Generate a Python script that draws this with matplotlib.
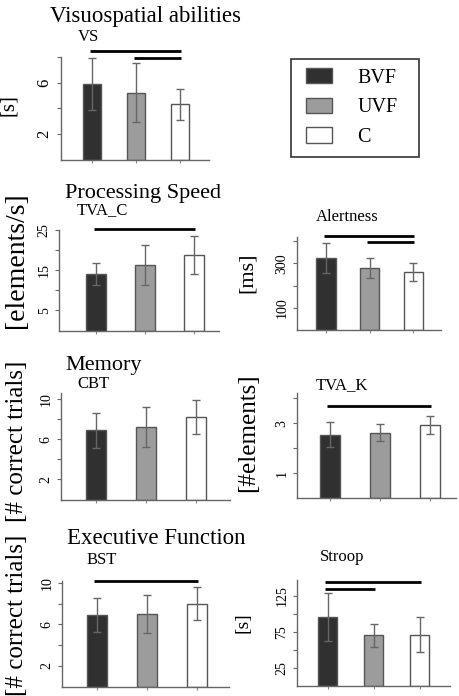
import numpy as np
import matplotlib
matplotlib.use("Agg")
import matplotlib.pyplot as plt
from matplotlib.patches import Patch, Rectangle

W, H = 460, 696
plt.rcParams['font.family'] = ['Liberation Serif', 'DejaVu Serif']

groups = ['BVF', 'UVF', 'C']
bar_colors = ['#303030', '#9c9c9c', '#ffffff']

vs_mean = [5.9, 5.2, 4.3]
vs_sd = [2.0, 2.3, 1.2]
tvac_mean = [14.1, 16.2, 18.8]
tvac_sd = [2.7, 5.0, 4.7]
alert_mean = [323, 278, 261]
alert_sd = [67, 45, 40]
cbt_mean = [6.9, 7.2, 8.2]
cbt_sd = [1.75, 2.0, 1.7]
tvak_mean = [2.54, 2.62, 2.92]
tvak_sd = [0.5, 0.33, 0.35]
bst_mean = [6.9, 7.0, 8.0]
bst_sd = [1.65, 1.85, 1.6]
stroop_mean = [95.7, 70.4, 71.4]
stroop_sd = [33, 16, 24]

# significance bars: (from group, to group, height)
vs_sig = [(0, 2, 8.5), (1, 2, 7.96)]
tvac_sig = [(0, 2, 25.2)]
alert_sig = [(0, 2, 425), (1, 2, 395)]
tvak_sig = [(0, 2, 3.68)]
bst_sig = [(0, 2, 10.2)]
stroop_sig = [(0, 2, 144), (0, 1, 135)]


def px_axes(fig, left, right, top, bottom):
    return fig.add_axes([left / W, 1 - bottom / H, (right - left) / W, (bottom - top) / H])


def panel(fig, rect, xlim, ylim, mean, sd, ticks, labels, sig, width=0.41, tsize=10):
    ax = px_axes(fig, *rect)
    x = np.arange(len(mean))
    ax.bar(x, mean, width, color=bar_colors, edgecolor='#555555', linewidth=1, zorder=2)
    ax.errorbar(x, mean, yerr=sd, fmt='none', ecolor='#666666', elinewidth=1,
                capsize=3, capthick=1, zorder=3)
    for a, b, h in sig:
        ax.plot([a - 0.05, b + 0.03], [h, h], color='black', lw=2.0,
                solid_capstyle='butt', clip_on=False, zorder=4)
    ax.set_xlim(*xlim)
    ax.set_ylim(*ylim)
    for s in ['top', 'right']:
        ax.spines[s].set_visible(False)
    for s in ['left', 'bottom']:
        ax.spines[s].set_color('#666666')
        ax.spines[s].set_linewidth(1)
    ax.set_xticks(x)
    ax.set_xticklabels([])
    ax.tick_params(axis='x', length=2, color='#888888')
    ax.set_yticks(ticks)
    ax.set_yticklabels(labels)
    ax.tick_params(axis='y', length=3, color='#666666', labelsize=tsize, pad=3,
                   labelrotation=90)
    for lab in ax.get_yticklabels():
        lab.set_va('center')
    ax.set_facecolor('none')
    return ax


fig = plt.figure(figsize=(W / 100, H / 100), dpi=100)

panel(fig, (61, 209, 57, 159.5), (-0.705, 2.66), (0, 8), vs_mean, vs_sd,
      [2, 4, 6, 8], ['2', '', '6', ''], vs_sig, width=0.41, tsize=12)
panel(fig, (59, 219, 230, 330.5), (-0.755, 2.51), (0, 25), tvac_mean, tvac_sd,
      [5, 10, 15, 20, 25], ['5', '', '15', '', '25'], tvac_sig, width=0.41)
panel(fig, (297, 441, 236.7, 330), (-0.667, 2.64), (0, 420), alert_mean, alert_sd,
      [100, 200, 300, 400], ['100', '', '300', ''], alert_sig, width=0.44)
panel(fig, (60.7, 230, 393, 499.5), (-0.7, 2.68), (0, 10.6), cbt_mean, cbt_sd,
      [2, 4, 6, 8, 10], ['2', '', '6', '', '10'], [], width=0.4)
panel(fig, (296.7, 456, 393.3, 498), (-0.66, 2.52), (0, 4.2), tvak_mean, tvak_sd,
      [1, 2, 3, 4], ['1', '', '3', ''], tvak_sig, width=0.4)
panel(fig, (61.7, 229, 581, 686.5), (-0.7, 2.65), (0, 10.2), bst_mean, bst_sd,
      [2, 4, 6, 8, 10], ['2', '', '6', '', '10'], bst_sig, width=0.4)
panel(fig, (296.7, 450, 580, 686), (-0.67, 2.66), (0, 147), stroop_mean, stroop_sd,
      [25, 50, 75, 100, 125], ['25', '', '75', '', '125'], stroop_sig, width=0.41)


def ftext(x, y, s, size, ha='left', va='baseline', rot=0):
    fig.text(x / W, 1 - y / H, s, fontsize=size, ha=ha, va=va, rotation=rot)


# section titles and test names
ftext(50, 22, 'Visuospatial abilities', 16.5)
ftext(78, 40.7, 'VS', 12)
ftext(65, 198.3, 'Processing Speed', 16)
ftext(77, 214, 'TVA_C', 12)
ftext(347, 220.7, 'Alertness', 12, ha='center')
ftext(65, 370, 'Memory', 16)
ftext(77, 388.3, 'CBT', 12)
ftext(341.7, 389, 'TVA_K', 12, ha='center')
ftext(66.7, 544, 'Executive Function', 16.5)
ftext(87, 564.3, 'BST', 12)
ftext(341.7, 560.7, 'Stroop', 12, ha='center')

# y labels
ftext(8, 105, '[s]', 15, ha='center', va='center', rot=90)
ftext(17, 260, '[elements/s]', 20, ha='center', va='center', rot=90)
ftext(247, 273, '[ms]', 16, ha='center', va='center', rot=90)
ftext(17.5, 441, '[# correct trials]', 18, ha='center', va='center', rot=90)
ftext(248, 433, '[#elements]', 18, ha='center', va='center', rot=90)
ftext(17, 615, '[# correct trials]', 18, ha='center', va='center', rot=90)
ftext(243, 623, '[s]', 14, ha='center', va='center', rot=90)

# legend: frame drawn separately so padding can differ per side
fig.add_artist(Rectangle((291 / W, 1 - 157 / H), 128 / W, 98 / H,
                         transform=fig.transFigure, fill=False,
                         edgecolor='#333333', linewidth=1.2))
handles = [Patch(facecolor=c, edgecolor='#555555', linewidth=1) for c in bar_colors]
fig.legend(handles, groups, loc='upper left', bbox_to_anchor=(306 / W, 1 - 68 / H),
           fontsize=14.5, handlelength=1.3, handleheight=0.8, handletextpad=1.25,
           labelspacing=0.49, borderpad=0, borderaxespad=0, frameon=False)

fig.savefig('out.png', dpi=100)
